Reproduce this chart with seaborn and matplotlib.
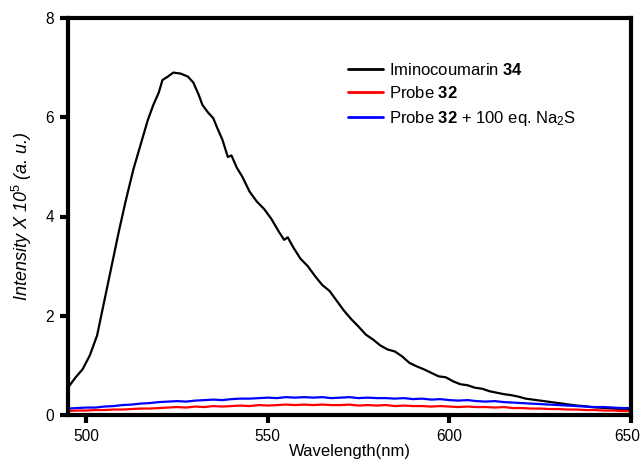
import numpy as np
import pandas as pd
import matplotlib
matplotlib.use("Agg")
import matplotlib.pyplot as plt
import matplotlib.transforms as mtransforms
import seaborn as sns

# ---- data ----
wl_black = [495, 497, 499, 501, 503, 505, 507, 509, 511, 513, 515, 517, 518.5, 520, 521,
            522.5, 524, 526, 528, 529.5, 531, 532, 533.5, 535, 536, 537.5, 539, 540, 541.5,
            543, 545, 547, 549, 551, 553, 554.5, 555.5, 557, 559, 561, 563, 565, 567, 569,
            571, 573, 575, 577, 579, 581, 583, 585, 587, 589, 591, 593, 595, 597, 599, 601,
            603, 605, 607, 609, 611, 613, 615, 617, 619, 621, 623, 625, 627, 629, 631, 633,
            635, 637, 639, 641, 643, 645, 647, 649, 650]
I_black = [0.55, 0.75, 0.92, 1.20, 1.60, 2.30, 3.00, 3.70, 4.35, 4.95, 5.45, 5.95, 6.25,
           6.50, 6.75, 6.82, 6.90, 6.88, 6.82, 6.70, 6.45, 6.25, 6.10, 5.98, 5.80, 5.55,
           5.20, 5.23, 4.98, 4.80, 4.50, 4.30, 4.15, 3.95, 3.70, 3.53, 3.58, 3.38, 3.15,
           3.00, 2.80, 2.62, 2.50, 2.30, 2.10, 1.93, 1.78, 1.62, 1.52, 1.40, 1.32, 1.28,
           1.18, 1.05, 0.98, 0.92, 0.85, 0.78, 0.76, 0.68, 0.62, 0.60, 0.55, 0.53, 0.48,
           0.45, 0.42, 0.40, 0.37, 0.33, 0.31, 0.29, 0.27, 0.25, 0.23, 0.21, 0.19, 0.18,
           0.16, 0.15, 0.14, 0.13, 0.12, 0.11, 0.11]

wl_probe = [495, 497.5, 500, 502.5, 505, 507.5, 510, 512.5, 515, 517.5, 520, 522.5, 525,
            527.5, 530, 532.5, 535, 537.5, 540, 542.5, 545, 547.5, 550, 552.5, 555, 557.5,
            560, 562.5, 565, 567.5, 570, 572.5, 575, 577.5, 580, 582.5, 585, 587.5, 590,
            592.5, 595, 597.5, 600, 602.5, 605, 607.5, 610, 612.5, 615, 617.5, 620, 622.5,
            625, 627.5, 630, 632.5, 635, 637.5, 640, 642.5, 645, 647.5, 650]
I_red = [0.08, 0.09, 0.09, 0.10, 0.10, 0.11, 0.11, 0.12, 0.13, 0.13, 0.14, 0.15, 0.16,
         0.15, 0.17, 0.16, 0.18, 0.17, 0.18, 0.19, 0.18, 0.20, 0.19, 0.20, 0.21, 0.20,
         0.21, 0.20, 0.21, 0.20, 0.20, 0.21, 0.19, 0.20, 0.19, 0.20, 0.18, 0.19, 0.18,
         0.18, 0.17, 0.18, 0.17, 0.16, 0.17, 0.16, 0.16, 0.15, 0.16, 0.14, 0.14, 0.13,
         0.13, 0.12, 0.12, 0.11, 0.11, 0.10, 0.10, 0.09, 0.09, 0.08, 0.08]
I_blue = [0.13, 0.14, 0.15, 0.15, 0.17, 0.18, 0.20, 0.21, 0.23, 0.24, 0.26, 0.27, 0.28,
          0.27, 0.29, 0.30, 0.31, 0.30, 0.32, 0.33, 0.33, 0.34, 0.35, 0.34, 0.36, 0.35,
          0.36, 0.35, 0.36, 0.34, 0.35, 0.36, 0.34, 0.35, 0.34, 0.34, 0.33, 0.34, 0.32,
          0.33, 0.31, 0.32, 0.30, 0.29, 0.30, 0.28, 0.27, 0.28, 0.26, 0.25, 0.24, 0.23,
          0.22, 0.21, 0.20, 0.19, 0.18, 0.17, 0.16, 0.16, 0.15, 0.14, 0.14]

labels = ["Iminocoumarin $\\mathbf{34}$",
          "Probe $\\mathbf{32}$",
          "Probe $\\mathbf{32}$ + 100 eq. Na$_\\mathregular{2}$S"]
colors = ["black", "#ff0000", "#0000ff"]

x_ticks = [500, 550, 600, 650]
y_ticks = [0, 2, 4, 6, 8]

# ---- build long-form table ----
df = pd.concat([
    pd.DataFrame({"wl": wl_black, "I": I_black, "series": labels[0]}),
    pd.DataFrame({"wl": wl_probe, "I": I_red, "series": labels[1]}),
    pd.DataFrame({"wl": wl_probe, "I": I_blue, "series": labels[2]}),
], ignore_index=True)

sns.set_style("ticks", {"xtick.bottom": True, "ytick.left": True,
                        "xtick.direction": "out", "ytick.direction": "out"})
plt.rcParams["font.family"] = ["Liberation Sans", "DejaVu Sans"]
plt.rcParams["mathtext.fontset"] = "custom"
plt.rcParams["mathtext.rm"] = "Liberation Sans"
plt.rcParams["mathtext.it"] = "Liberation Sans:italic"
plt.rcParams["mathtext.bf"] = "Liberation Sans:bold"
plt.rcParams["text.color"] = "black"
plt.rcParams["axes.labelcolor"] = "black"
plt.rcParams["xtick.color"] = "black"
plt.rcParams["ytick.color"] = "black"
plt.rcParams["xtick.major.size"] = 6
plt.rcParams["ytick.major.size"] = 6
plt.rcParams["xtick.major.width"] = 3
plt.rcParams["ytick.major.width"] = 3
plt.rcParams["axes.linewidth"] = 3

fig = plt.figure(figsize=(6.41, 4.66), dpi=100)
ax = fig.add_axes([68 / 641, 1 - 415 / 466, (631 - 68) / 641, (415 - 18) / 466])

sns.lineplot(data=df, x="wl", y="I", hue="series", palette=dict(zip(labels, colors)),
             hue_order=labels, linewidth=1.6, ax=ax, sort=False)

ax.set_xlim(495, 650)
ax.set_ylim(0, 8)
ax.set_xticks(x_ticks)
ax.set_yticks(y_ticks)
ax.tick_params(axis="both", which="major", bottom=True, left=True, top=False, right=False,
               direction="out", length=6, width=3, labelsize=11.2, pad=4,
               color="black", labelcolor="black")
for s in ax.spines.values():
    s.set_linewidth(3)
    s.set_color("black")
    s.set_visible(True)

# nudge the last x tick label left so it stays inside the canvas
last_lbl = ax.get_xticklabels()[-1]
last_lbl.set_transform(last_lbl.get_transform() +
                       mtransforms.ScaledTranslation(-0.04, 0, fig.dpi_scale_trans))

ax.set_xlabel("Wavelength(nm)", fontsize=12, labelpad=0, color="black")
ax.set_ylabel("Intensity X 10$^{5}$ (a. u.)", fontsize=13, style="italic",
              labelpad=8, color="black")

leg = ax.legend(loc="upper left", bbox_to_anchor=(0.497, 0.89), frameon=False,
                fontsize=12, handlelength=2.1, handletextpad=0.4, labelspacing=0.45,
                borderpad=0, borderaxespad=0)
for line in leg.get_lines():
    line.set_linewidth(2)

fig.savefig("out.png", dpi=100)
